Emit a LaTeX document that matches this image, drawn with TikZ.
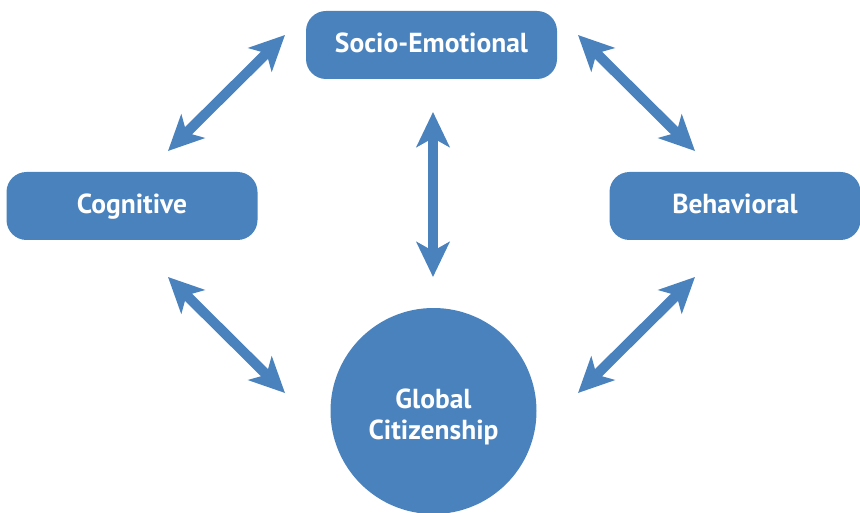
\documentclass[tikz,border=0pt]{standalone}
\usepackage{fontspec}
\setmainfont{PT Sans}
\usetikzlibrary{arrows.meta}
\definecolor{bluefill}{HTML}{4A82BE}
\tikzset{
  x=1pt, y=-1pt,
  box/.style={fill=bluefill, rounded corners=20pt, minimum width=251pt, minimum height=68pt, text=white, font=\bfseries\fontsize{27.5}{31}\selectfont, inner sep=0pt, text height=20pt, text depth=4pt},
  hub/.style={circle, fill=bluefill, minimum size=206pt, text=white, font=\bfseries\fontsize{27.5}{31}\selectfont, align=center, inner sep=0pt, text height=62pt, text depth=6pt},
  dbl/.style={draw=bluefill, line width=10pt, {Stealth[length=35pt, width=33pt, inset=9pt]}-{Stealth[length=35pt, width=33pt, inset=9pt]}}
}
\begin{document}
\begin{tikzpicture}
\useasboundingbox (0,0) rectangle (860,513);
\node[box] (se) at (431.5,45) {Socio-Emotional};
\node[box] (cog) at (132,206) {Cognitive};
\node[box] (beh) at (735,206) {Behavioral};
\node[hub] (gc) at (433.5,411) {Global\\Citizenship};
\coordinate (a1) at (168,151);
\coordinate (a2) at (285,35);
\coordinate (b1) at (578,35);
\coordinate (b2) at (695,151);
\coordinate (c1) at (433,112);
\coordinate (c2) at (433,277);
\coordinate (d1) at (168,277);
\coordinate (d2) at (285,393);
\coordinate (e1) at (695,277);
\coordinate (e2) at (578,393);
\draw[dbl] (a1) -- (a2);
\draw[dbl] (b1) -- (b2);
\draw[dbl] (c1) -- (c2);
\draw[dbl] (d1) -- (d2);
\draw[dbl] (e1) -- (e2);
\end{tikzpicture}
\end{document}
